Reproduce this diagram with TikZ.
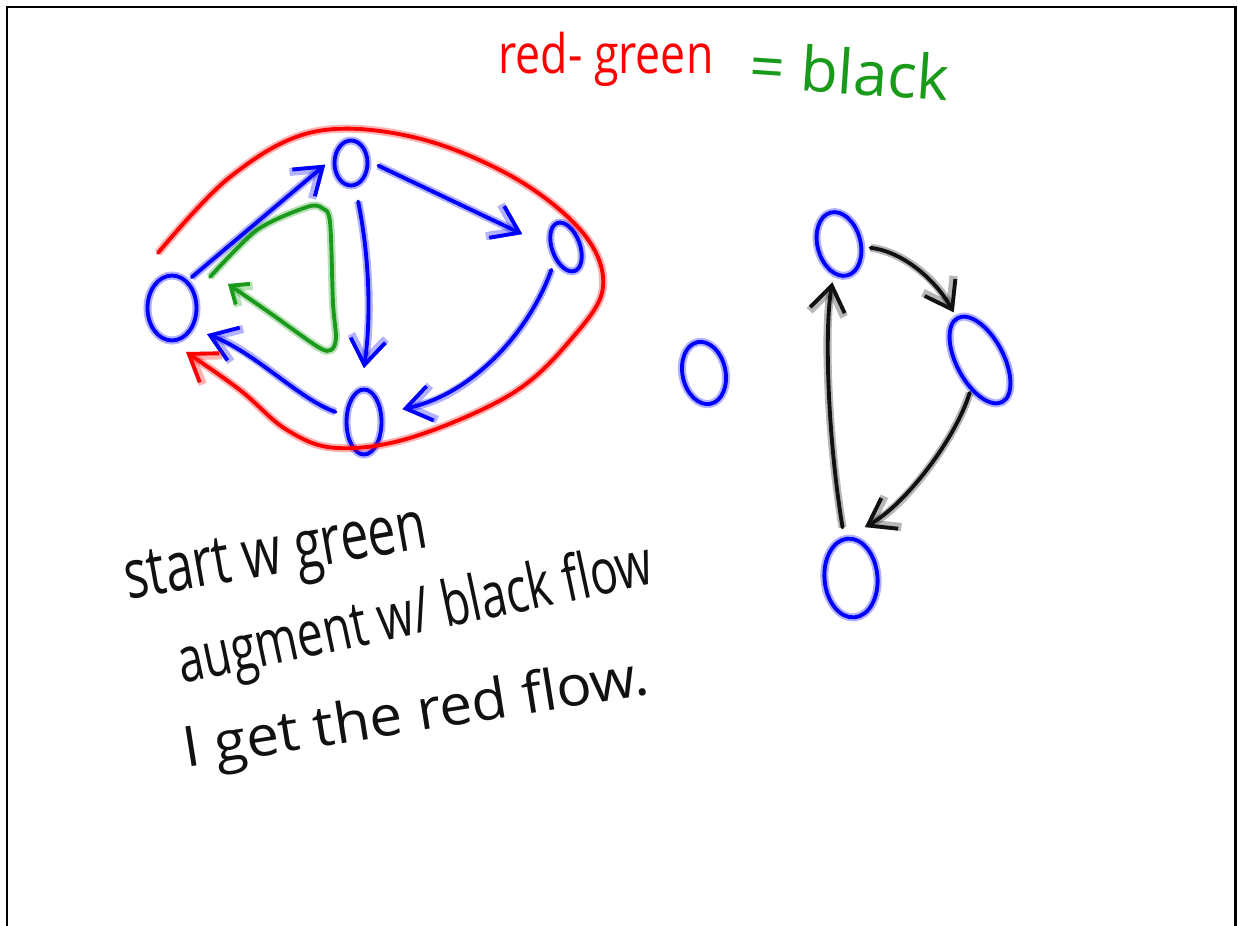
\documentclass[tikz,border=0pt]{standalone}
\usepackage{fontspec}
\setmainfont{Open Sans}
\usepackage{graphicx}
\usetikzlibrary{arrows.meta, shapes.geometric}
\definecolor{inkblue}{HTML}{0000FF}
\definecolor{inkred}{HTML}{FF0000}
\definecolor{inkgreen}{HTML}{1A9A1A}
\definecolor{inkblack}{HTML}{111111}

\begin{document}
\begin{tikzpicture}[
  x=0.02cm, y=-0.02cm,
  ink/.style={draw=#1, line width=2.2pt, line cap=round, line join=round,
              preaction={draw=#1, line width=4.6pt, opacity=0.3}},
  vertex/.style={ellipse, ink=inkblue, inner sep=0pt},
  flow/.style={ink=#1, -{Straight Barb[length=5mm, width=7mm]}},
  smallflow/.style={ink=#1, -{Straight Barb[length=3mm, width=5mm]}},
  note/.style={anchor=base west, inner sep=0pt, text=inkblack},
]
\useasboundingbox (0,0) rectangle (1238,926);

% board frame
\draw[line width=1.7pt] (7,926) -- (7,7) -- (1235,7) -- (1235,926);

% heading
\node[note, text=inkred, font=\fontsize{31}{36}\selectfont] (h1) at (498,74) {\scalebox{0.82}[1]{red- green}};
\node[note, text=inkgreen, font=\fontsize{35}{42}\selectfont, rotate=-4] (h2) at (748,87) {= black};

% left network
\node[vertex, minimum width=0.98cm, minimum height=1.3cm] (v1) at (172,308) {};
\node[vertex, minimum width=0.66cm, minimum height=0.9cm] (v2) at (351,163) {};
\node[vertex, minimum width=0.56cm, minimum height=1.02cm, rotate=20] (v3) at (566,247) {};
\node[vertex, minimum width=0.7cm, minimum height=1.3cm] (v4) at (364,422) {};

\draw[flow=inkblue, shorten <=1mm, shorten >=2mm] (v1.60) -- (v2.165);
\draw[flow=inkblue, shorten <=2mm, shorten >=6mm] (v2.5) -- (v3.160);
\draw[flow=inkblue, shorten <=3mm, shorten >=4mm] (v2.-80) .. controls (370,260) and (371,320) .. (v4.95);
\draw[flow=inkblue, shorten <=2mm, shorten >=4mm] (v3.-150) .. controls (528,335) and (470,395) .. (v4.25);
\draw[flow=inkblue, shorten <=2mm, shorten >=3mm] (v4.160) .. controls (300,400) and (255,352) .. (v1.-45);

% red flow
\coordinate (r0) at (158,253);
\coordinate (r1) at (186,352);
\draw[flow=inkred] plot[smooth, tension=0.6] coordinates {(r0) (230,177) (313,132) (413,137)
  (513,177) (583,233) (603,287) (573,337) (513,393) (413,437) (337,448) (287,430) (240,390) (r1)};

% green flow
\coordinate (g0) at (210,277);
\coordinate (g1) at (228,284);
\draw[smallflow=inkgreen] plot[smooth, tension=0.5] coordinates {(g0) (257,230) (307,207) (322,208)
  (330,222) (333,303) (336,338) (331,350) (318,347) (270,313) (g1)};

% right network
\node[vertex, minimum width=0.86cm, minimum height=1.26cm, rotate=12] (w0) at (704,373) {};
\node[vertex, minimum width=0.86cm, minimum height=1.3cm, rotate=15] (w1) at (839,244) {};
\node[vertex, minimum width=0.94cm, minimum height=1.9cm, rotate=28] (w2) at (980,360) {};
\node[vertex, minimum width=1.06cm, minimum height=1.58cm, rotate=5] (w3) at (851,578) {};

\draw[flow=inkblack, shorten <=1.5mm, shorten >=1mm] (w1) .. controls (905,252) and (937,282) .. (w2);
\draw[flow=inkblack, shorten <=0.5mm, shorten >=4mm] (w2) .. controls (955,440) and (905,505) .. (w3.north);
\draw[flow=inkblack, shorten <=2mm, shorten >=1.5mm] (w3) .. controls (828,440) and (824,330) .. (w1);

% notes
\node[note, font=\fontsize{39}{46}\selectfont, rotate=10] (n1) at (128,600) {\scalebox{0.73}[1]{start w green}};
\node[note, font=\fontsize{36}{43}\selectfont, rotate=12] (n2) at (182,684) {\scalebox{0.73}[1]{augment w/ black flow}};
\node[note, font=\fontsize{32}{38}\selectfont, rotate=9] (n3) at (186,768) {\scalebox{1.04}[1]{I get the red flow.}};

\end{tikzpicture}
\end{document}
